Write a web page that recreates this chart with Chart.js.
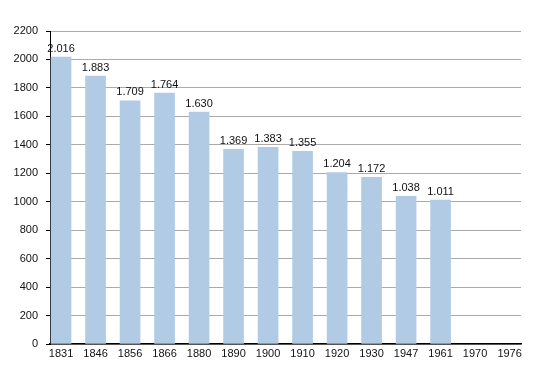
<!DOCTYPE html>
<html>
<head>
<meta charset="utf-8">
<script src="https://cdn.jsdelivr.net/npm/chart.js@4/dist/chart.umd.min.js"></script>
<style>
  html, body { margin: 0; padding: 0; background: #fff; }
  #wrap { width: 550px; height: 373px; }
</style>
</head>
<body>
<div id="wrap"><canvas id="grafico"></canvas></div>
<script>
// anni e abitanti
const anni = ['1831', '1846', '1856', '1866', '1880', '1890', '1900', '1910', '1920', '1930', '1947', '1961', '1970', '1976'];
const abitanti = [2016, 1883, 1709, 1764, 1630, 1369, 1383, 1355, 1204, 1172, 1038, 1011];
const yMax = 2200;

function formatta(v) {
    return Math.floor(v / 1000) + '.' + String(v % 1000).padStart(3, '0');
}

// etichette sopra le barre
const etichette = {
    id: 'etichette',
    afterDatasetsDraw(chart) {
        const ctx = chart.ctx;
        const meta = chart.getDatasetMeta(0);
        ctx.save();
        ctx.font = '11px "Liberation Sans", Arial, sans-serif';
        ctx.fillStyle = '#111';
        ctx.textAlign = 'center';
        ctx.textBaseline = 'bottom';
        meta.data.forEach(function(bar, i) {
            ctx.fillText(formatta(abitanti[i]), bar.x, bar.y - 3);
        });
        ctx.restore();
    }
};

document.addEventListener('DOMContentLoaded', function() {
    const ctx = document.getElementById('grafico').getContext('2d');

    new Chart(ctx, {
        type: 'bar',
        data: {
            datasets: [{
                data: abitanti.map((v, i) => ({ x: i, y: v })),
                backgroundColor: '#b1cbe5',
                borderWidth: 0,
                barThickness: 20
            }]
        },
        options: {
            responsive: true,
            maintainAspectRatio: false,
            animation: false,
            layout: { padding: { top: 31, right: 29, left: 0, bottom: 0 } },
            plugins: {
                legend: { display: false },
                tooltip: { enabled: false }
            },
            scales: {
                x: {
                    type: 'linear',
                    offset: false,
                    min: -0.32,
                    max: 13.33,
                    afterBuildTicks: function(scale) {
                        scale.ticks = anni.map((a, i) => ({ value: i }));
                    },
                    afterFit: function(scale) { scale.height = 29; },
                    grid: { display: false, drawTicks: false, tickLength: 0 },
                    border: { display: true, color: '#000', width: 1.5 },
                    ticks: {
                        autoSkip: false,
                        maxRotation: 0,
                        padding: 3,
                        color: '#111',
                        font: { family: '"Liberation Sans", Arial, sans-serif', size: 11 },
                        callback: function(value) { return anni[value]; }
                    }
                },
                y: {
                    min: 0,
                    max: yMax,
                    afterFit: function(scale) { scale.width = 50; },
                    border: { display: true, color: '#000', width: 1 },
                    grid: {
                        tickLength: 4,
                        color: function(c) {
                            return c.tick.value % 200 === 0 ? '#aaaaaa' : '#e2e2e2';
                        },
                        tickColor: '#000'
                    },
                    ticks: {
                        stepSize: 100,
                        padding: 8,
                        color: '#111',
                        font: { family: '"Liberation Sans", Arial, sans-serif', size: 11 },
                        callback: function(value) { return value % 200 === 0 ? value : ''; }
                    }
                }
            }
        },
        plugins: [etichette]
    });
});
</script>
</body>
</html>
